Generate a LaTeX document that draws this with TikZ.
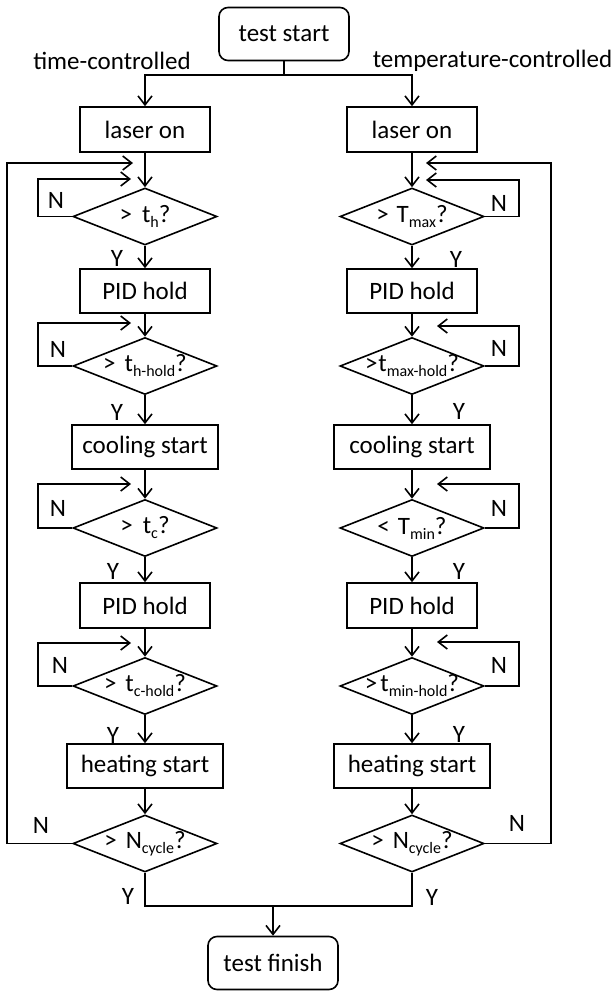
\documentclass[tikz,border=0pt]{standalone}
\usepackage{fontspec}
\setmainfont{Carlito}
\usetikzlibrary{arrows.meta,shapes.geometric}

% lowered index in a smaller size
\newcommand{\lowidx}[1]{\raisebox{-5pt}{\fontsize{16}{16}\selectfont #1}}

\begin{document}
\begin{tikzpicture}[x=1pt,y=-1pt,
  every node/.style={font=\fontsize{25}{30}\selectfont},
  line width=1.6pt,
  arr/.style={-{Straight Barb[length=9pt,width=14pt]}},
  box/.style={draw, line width=1.6pt, minimum height=44, inner sep=0},
  term/.style={box, rounded corners=9pt, minimum width=130, minimum height=53},
  dec/.style={diamond, draw, line width=1.6pt, minimum width=144, minimum height=57,
              inner sep=0, aspect=2.5},
  lab/.style={inner sep=0}]
\useasboundingbox (0,0) rectangle (614,991);

% start, branches, finish
\node[term] (start) at (284,34) {test start};
\node[lab] (tctl) at (112,61) {time-controlled};
\node[lab, anchor=east] (Tctl) at (613,61) {temperature-controlled};
\coordinate (split) at (284,75);
\node[term] (finish) at (273,963) {test finish};
\coordinate (merge) at (273,906);

% time-controlled column
\node[box, minimum width=130, minimum height=45] (laserL) at (145,129.5) {laser on};
\node[dec, label={center:>\hspace{10pt}t\lowidx{h}?}] (d1L) at (145,216.5) {};
\node[box, minimum width=130] (pid1L) at (145,291) {PID hold};
\node[dec, label={center:>\hspace{9pt}t\lowidx{h-hold}?}] (d2L) at (145,366) {};
\node[box, minimum width=146] (coolL) at (145,447) {cooling start};
\node[dec, label={center:>\hspace{10pt}t\lowidx{c}?}] (d3L) at (145,528) {};
\node[box, minimum width=130, minimum height=45] (pid2L) at (145,605.5) {PID hold};
\node[dec, label={center:>\hspace{9pt}t\lowidx{c-hold}?}] (d4L) at (145,686) {};
\node[box, minimum width=156] (heatL) at (145,766) {heating start};
\node[dec, label={center:>\hspace{9pt}N\lowidx{cycle}?}] (d5L) at (145,843.5) {};

% temperature-controlled column
\node[box, minimum width=130, minimum height=45] (laserR) at (412,129.5) {laser on};
\node[dec, label={center:>\hspace{8pt}T\lowidx{max}?}] (d1R) at (412,216.5) {};
\node[box, minimum width=130] (pid1R) at (412,291) {PID hold};
\node[dec, label={center:>\hspace{1pt}t\lowidx{max-hold}?}] (d2R) at (412,366) {};
\node[box, minimum width=156] (coolR) at (412,447) {cooling start};
\node[dec, label={center:<\hspace{8pt}T\lowidx{min}?}] (d3R) at (412,528) {};
\node[box, minimum width=130, minimum height=45] (pid2R) at (412,605.5) {PID hold};
\node[dec, label={center:>\hspace{3pt}t\lowidx{min-hold}?}] (d4R) at (412,686) {};
\node[box, minimum width=156] (heatR) at (412,766) {heating start};
\node[dec, label={center:>\hspace{9pt}N\lowidx{cycle}?}] (d5R) at (412,843.5) {};

% loop entry points
\coordinate (backL) at (133,163);
\coordinate (in1L) at (131,179);
\coordinate (in2L) at (131,323);
\coordinate (in3L) at (131,484);
\coordinate (in4L) at (131,643);
\coordinate (backR) at (426,163);
\coordinate (in1R) at (426,180);
\coordinate (in2R) at (437,326);
\coordinate (in3R) at (437,484);
\coordinate (in4R) at (437,642);

% branching from start
\draw (start) -- (split);
\draw[arr] (split) -| (laserL);
\draw[arr] (split) -| (laserR);

% main flow, left
\draw[arr] (laserL) -- (d1L);
\draw[arr] (d1L) -- (pid1L);
\draw[arr] (pid1L) -- (d2L);
\draw[arr] (d2L) -- (coolL);
\draw[arr] (coolL) -- (d3L);
\draw[arr] (d3L) -- (pid2L);
\draw[arr] (pid2L) -- (d4L);
\draw[arr] (d4L) -- (heatL);
\draw[arr] (heatL) -- (d5L);

% main flow, right
\draw[arr] (laserR) -- (d1R);
\draw[arr] (d1R) -- (pid1R);
\draw[arr] (pid1R) -- (d2R);
\draw[arr] (d2R) -- (coolR);
\draw[arr] (coolR) -- (d3R);
\draw[arr] (d3R) -- (pid2R);
\draw[arr] (pid2R) -- (d4R);
\draw[arr] (d4R) -- (heatR);
\draw[arr] (heatR) -- (d5R);

% waiting loops, left
\draw[arr] (d1L.west) -- ++(-34,0) |- (in1L);
\draw[arr] (d2L.west) -- ++(-34,0) |- (in2L);
\draw[arr] (d3L.west) -- ++(-34,0) |- (in3L);
\draw[arr] (d4L.west) -- ++(-34,0) |- (in4L);
\draw[arr] (d5L.west) -- ++(-65,0) |- (backL);

% waiting loops, right
\draw[arr] (d1R.east) -- ++(34,0) |- (in1R);
\draw[arr] (d2R.east) -- ++(34,0) |- (in2R);
\draw[arr] (d3R.east) -- ++(34,0) |- (in3R);
\draw[arr] (d4R.east) -- ++(34,0) |- (in4R);
\draw[arr] (d5R.east) -- ++(66,0) |- (backR);

% joining to finish
\draw (d5L.south) |- (merge);
\draw (d5R.south) |- (merge);
\draw[arr] (merge) -- (finish);

% Y labels
\node[lab] (y1L) at (117,258) {Y};
\node[lab] (y2L) at (117,412) {Y};
\node[lab] (y3L) at (113,571) {Y};
\node[lab] (y4L) at (113,735) {Y};
\node[lab] (y5L) at (128,896) {Y};
\node[lab] (y1R) at (456,259) {Y};
\node[lab] (y2R) at (459,411) {Y};
\node[lab] (y3R) at (459,571) {Y};
\node[lab] (y4R) at (459,734) {Y};
\node[lab] (y5R) at (432,897) {Y};

% N labels
\node[lab] (n1L) at (56,200) {N};
\node[lab] (n2L) at (58,349) {N};
\node[lab] (n3L) at (58,508) {N};
\node[lab] (n4L) at (60,665) {N};
\node[lab] (n5L) at (41,825) {N};
\node[lab] (n1R) at (499,203) {N};
\node[lab] (n2R) at (499,348) {N};
\node[lab] (n3R) at (499,508) {N};
\node[lab] (n4R) at (499,665) {N};
\node[lab] (n5R) at (517,823) {N};
\end{tikzpicture}
\end{document}
